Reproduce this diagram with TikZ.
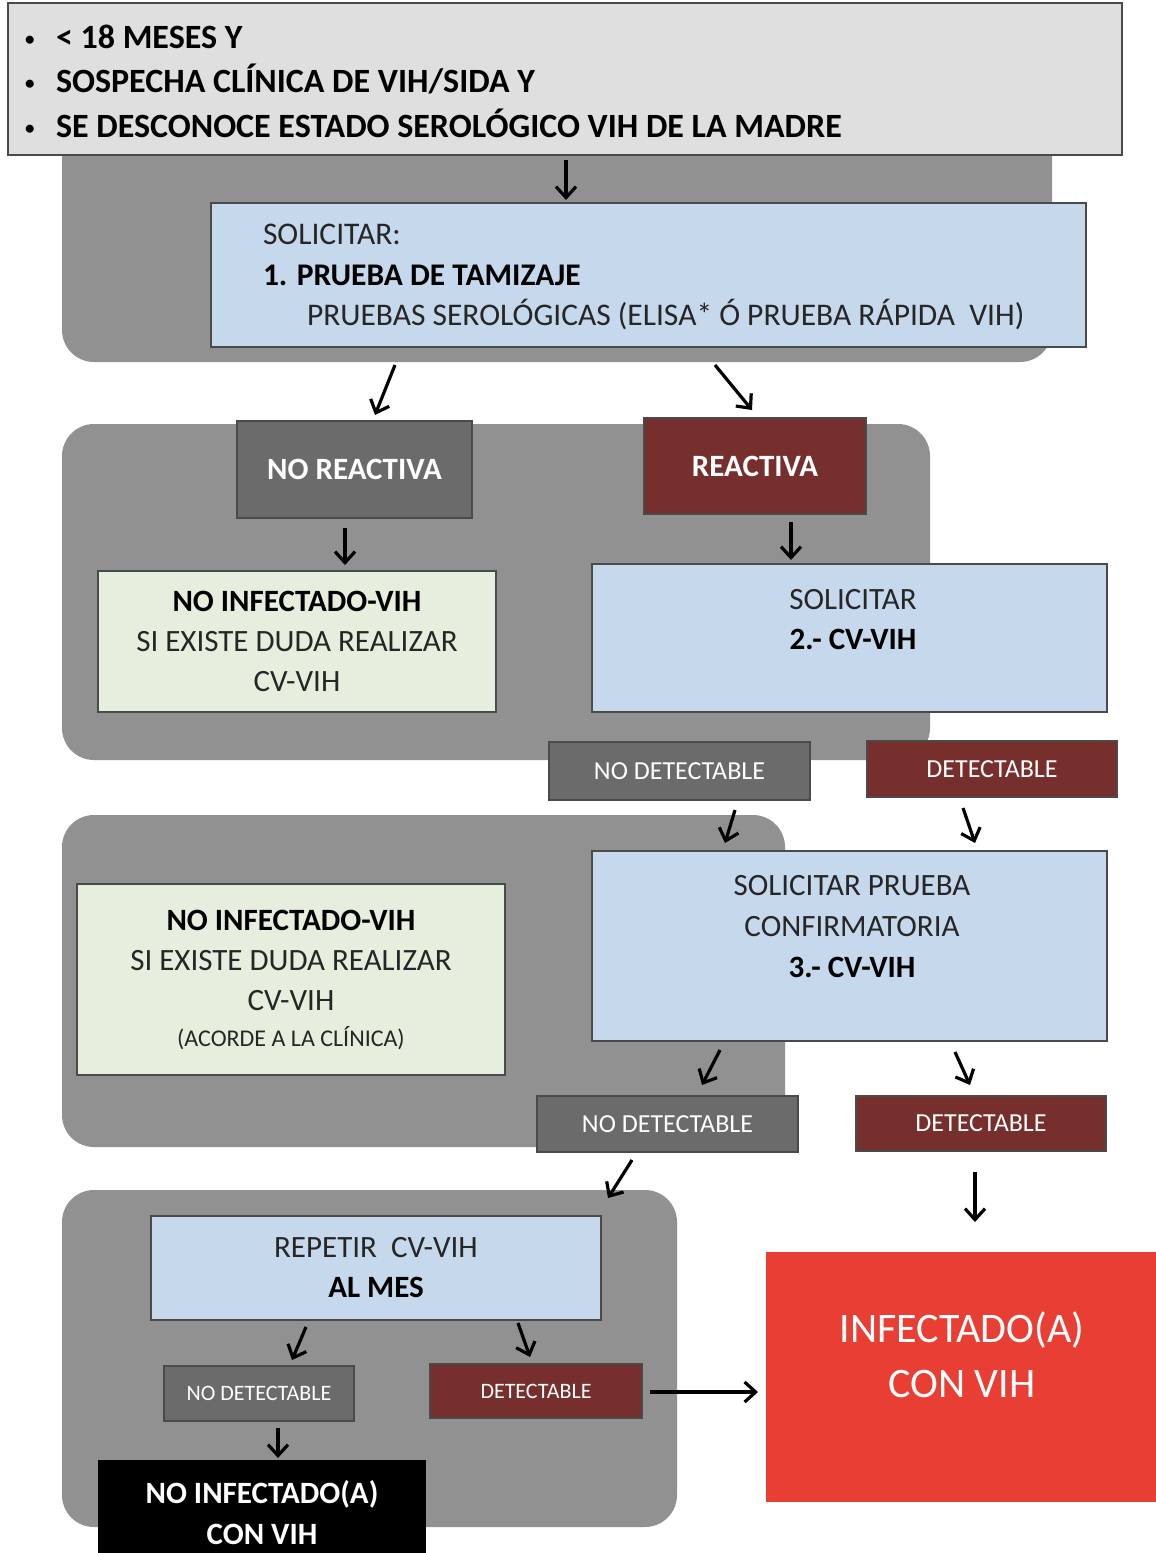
\documentclass[tikz,border=0pt]{standalone}
\usepackage{fontspec}
\setmainfont{Carlito}
\usetikzlibrary{arrows.meta,calc}

\definecolor{topgray}{HTML}{DFDFDF}
\definecolor{panelgray}{HTML}{919191}
\definecolor{stepblue}{HTML}{C6D8EC}
\definecolor{okgreen}{HTML}{E6EFDE}
\definecolor{neggray}{HTML}{6B6B6B}
\definecolor{posred}{HTML}{772F2D}
\definecolor{alertred}{HTML}{E83E33}
\definecolor{edgegray}{HTML}{4A4A4A}
\definecolor{inkgray}{HTML}{262626}

\newcommand{\fsz}[2]{\fontsize{#1}{#2}\selectfont}
\newcommand{\critbullet}{\makebox[31pt][l]{\raisebox{3pt}{\fsz{19}{19}\textbullet}}}

\begin{document}
\begin{tikzpicture}[x=1pt,y=-1pt,
  panel/.style={fill=panelgray, rounded corners=32pt, inner sep=0pt, outer sep=0pt},
  box/.style={draw=edgegray, line width=1.5pt, inner sep=0pt, outer sep=0pt, align=center},
  bluebox/.style={box, fill=stepblue, text=inkgray, font=\fsz{31}{40}},
  greenbox/.style={box, fill=okgreen, text=inkgray, font=\fsz{31}{40}},
  negbox/.style={box, fill=neggray, text=white},
  posbox/.style={box, fill=posred, text=white},
  plain/.style={inner sep=0pt, outer sep=0pt, align=center},
  arr/.style={line width=3.2pt, -{Straight Barb[length=11pt,width=20pt]}},
]
\useasboundingbox (0,0) rectangle (1156,1553);
\fill[white] (0,0) rectangle (1156,1553);

% grouping panels
\node[panel, minimum width=990, minimum height=252] (p1) at (557,236) {};
\node[panel, minimum width=868, minimum height=336] (p2) at (496,592) {};
\node[panel, minimum width=723, minimum height=332] (p3) at (423.5,981) {};
\node[panel, minimum width=615, minimum height=337] (p4) at (369.5,1358.5) {};

% entry criteria
\node[box, fill=topgray, minimum width=1114, minimum height=152] (top) at (565,79) {};
\node[plain, anchor=west, align=left, font=\fsz{34}{44.5}\bfseries, text=black] (toptxt) at (25,81)
  {\critbullet< 18 MESES Y\\
   \critbullet SOSPECHA CLÍNICA DE VIH/SIDA Y\\
   \critbullet SE DESCONOCE ESTADO SEROLÓGICO VIH DE LA MADRE};

% step 1
\node[bluebox, minimum width=875, minimum height=144] (sol1) at (648.5,275) {};
\node[plain, anchor=west, align=left, font=\fsz{31.5}{40.5}, text=inkgray] (sol1txt) at (263,277)
  {SOLICITAR:\\
   \textcolor{black}{\bfseries 1. PRUEBA DE TAMIZAJE}\\
   \hspace*{44pt}PRUEBAS SEROLÓGICAS (ELISA* Ó PRUEBA RÁPIDA\ \ VIH)};

% screening results
\node[negbox, minimum width=235, minimum height=97, font=\fsz{31}{40}\bfseries] (noreac) at (354.5,469.5) {NO REACTIVA};
\node[posbox, minimum width=222, minimum height=96, font=\fsz{31}{40}\bfseries] (reac) at (755,466) {REACTIVA};

\node[greenbox, minimum width=398, minimum height=141] (noinf1) at (297,641.5)
  {\textcolor{black}{\bfseries NO INFECTADO-VIH}\\SI EXISTE DUDA REALIZAR\\CV-VIH};

% step 2
\node[bluebox, minimum width=515, minimum height=148] (sol2) at (849.5,638) {};
\node[plain, font=\fsz{31}{40}, text=inkgray] (sol2txt) at (853,620)
  {SOLICITAR\\\textcolor{black}{\bfseries 2.- CV-VIH}};

\node[negbox, minimum width=261, minimum height=58, font=\fsz{26}{30}] (nodet1) at (679.5,771) {NO DETECTABLE};
\node[posbox, minimum width=250, minimum height=56, font=\fsz{26}{30}] (det1) at (992,769) {DETECTABLE};

% step 3
\node[greenbox, minimum width=428, minimum height=191] (noinf2) at (291,979.5)
  {\textcolor{black}{\bfseries NO INFECTADO-VIH}\\SI EXISTE DUDA REALIZAR\\CV-VIH\\[-4pt]{\fsz{24}{30}(ACORDE A LA CLÍNICA)}};

\node[bluebox, minimum width=515, minimum height=190] (sol3) at (849.5,946) {};
\node[plain, font=\fsz{31}{41}, text=inkgray] (sol3txt) at (852,927)
  {SOLICITAR PRUEBA\\CONFIRMATORIA\\\textcolor{black}{\bfseries 3.- CV-VIH}};

\node[negbox, minimum width=261, minimum height=56, font=\fsz{26}{30}] (nodet2) at (667.5,1124) {NO DETECTABLE};
\node[posbox, minimum width=250, minimum height=55, font=\fsz{26}{30}] (det2) at (981,1123.5) {DETECTABLE};

% repeat after one month
\node[bluebox, minimum width=450, minimum height=104] (rep) at (376,1268)
  {REPETIR\ \ CV-VIH\\\textcolor{black}{\bfseries AL MES}};
\node[negbox, minimum width=190, minimum height=55, font=\fsz{22}{26}] (nodet3) at (259,1393.5) {NO DETECTABLE};
\node[posbox, minimum width=212, minimum height=54, font=\fsz{22}{26}] (det3) at (536,1391) {DETECTABLE};

% outcomes
\node[fill=black, inner sep=0pt, outer sep=0pt, minimum width=328, minimum height=110] (noinf3) at (262,1515) {};
\node[plain, font=\fsz{31}{41}\bfseries, text=white] (noinf3txt) at (262,1513) {NO INFECTADO(A)\\CON VIH};

\node[fill=alertred, inner sep=0pt, outer sep=0pt, minimum width=400, minimum height=250] (inf) at (966,1377) {};
\node[plain, font=\fsz{42}{55}, text=white] (inftxt) at (962,1355) {INFECTADO(A)\\CON VIH};

% connectors
\draw[arr] ([shift={(1,5)}]top.south) -- ([shift={(355,-3)}]sol1.north west);
\draw[arr] ([shift={(184,18)}]sol1.south west) -- ([shift={(138,-6)}]noreac.north west);
\draw[arr] ([shift={(504,18)}]sol1.south west) -- ([shift={(108,-8)}]reac.north west);
\draw[arr] ([shift={(108,10)}]noreac.south west) -- ([shift={(247,-6)}]noinf1.north west);
\draw[arr] ([shift={(147,8)}]reac.south west) -- ([shift={(199,-4)}]sol2.north west);
\draw[arr] ([shift={(186,10)}]nodet1.south west) -- ([shift={(133,-8)}]sol3.north west);
\draw[arr] ([shift={(96,11)}]det1.south west) -- ([shift={(383,-8)}]sol3.north west);
\draw[arr] ([shift={(128,9)}]sol3.south west) -- ([shift={(165,-11)}]nodet2.north west);
\draw[arr] ([shift={(363,11)}]sol3.south west) -- ([shift={(114,-11)}]det2.north west);
\draw[arr] ([shift={(95,8)}]nodet2.south west) -- ([shift={(546,8)}]p4.north west);
\draw[arr] ([shift={(119,21)}]det2.south west) -- ([shift={(209,-30)}]inf.north west);
\draw[arr] ([shift={(155,7)}]rep.south west) -- ([shift={(128,-6)}]nodet3.north west);
\draw[arr] ([shift={(367,3)}]rep.south west) -- ([shift={(100,-7)}]det3.north west);
\draw[arr] ([shift={(114,7)}]nodet3.south west) -- ([shift={(180,-2)}]noinf3.north west);
\draw[arr] ([shift={(8,1)}]det3.east) -- ([shift={(-8,15)}]inf.west);
\end{tikzpicture}
\end{document}
